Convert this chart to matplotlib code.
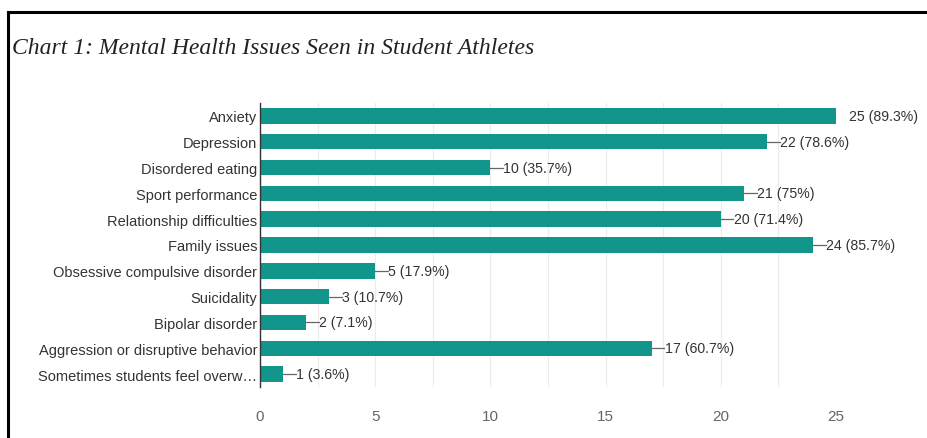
import matplotlib
matplotlib.use("Agg")
import matplotlib.pyplot as plt
from matplotlib.lines import Line2D
from matplotlib.ticker import MultipleLocator

categories = [
    "Anxiety",
    "Depression",
    "Disordered eating",
    "Sport performance",
    "Relationship difficulties",
    "Family issues",
    "Obsessive compulsive disorder",
    "Suicidality",
    "Bipolar disorder",
    "Aggression or disruptive behavior",
    "Sometimes students feel overw\u2026",
]
counts = [25, 22, 10, 21, 20, 24, 5, 3, 2, 17, 1]
percents = ["89.3%", "78.6%", "35.7%", "75%", "71.4%", "85.7%", "17.9%", "10.7%", "7.1%", "60.7%", "3.6%"]
x_ticks = [0, 5, 10, 15, 20, 25]

W, H = 928, 439
fig = plt.figure(figsize=(W / 100, H / 100), dpi=100)
ax = fig.add_axes([260 / W, 1 - 388 / H, (836 - 260) / W, (388 - 104) / H])

bar_color = "#12958a"
y = list(range(len(categories)))
ax.barh(y, counts, height=0.6, color=bar_color, zorder=3)
ax.set_ylim(len(categories) - 0.5, -0.5)
ax.set_xlim(0, 25)

ax.set_yticks(y)
ax.set_yticklabels(categories, fontsize=10.5, color="#333333", family="Liberation Sans")
ax.set_xticks(x_ticks)
ax.set_xticklabels([str(t) for t in x_ticks], fontsize=11, color="#666666", family="Liberation Sans")
ax.xaxis.set_minor_locator(MultipleLocator(2.5))
ax.tick_params(axis="both", which="both", length=0)
ax.tick_params(axis="y", pad=2)
ax.tick_params(axis="x", pad=16)
ax.grid(axis="x", which="both", color="#ececec", linewidth=0.8, zorder=0)
for s in ["top", "right", "bottom"]:
    ax.spines[s].set_visible(False)
ax.spines["left"].set_color("#333333")
ax.spines["left"].set_linewidth(1.0)
ax.spines["left"].set_zorder(4)

for yi, c, p in zip(y, counts, percents):
    ln = Line2D([c, c + 0.55], [yi, yi], color="#666666", linewidth=0.9, zorder=2)
    ax.add_line(ln)
    ax.annotate(f"{c} ({p})", xy=(c, yi), xytext=(13, 0), textcoords="offset pixels",
                va="center", ha="left", fontsize=10.2, color="#333333",
                family="Liberation Sans", annotation_clip=False)

fig.text(12 / W, 1 - 48 / H, "Chart 1: Mental Health Issues Seen in Student Athletes",
         fontsize=17, style="italic", family="Liberation Serif", color="#222222",
         va="center", ha="left")

# frame lines
fig.add_artist(Line2D([8 / W, 1.0], [1 - 13 / H, 1 - 13 / H], transform=fig.transFigure,
                      color="black", linewidth=2.2))
fig.add_artist(Line2D([8 / W, 8 / W], [1 - 13 / H, 0.0], transform=fig.transFigure,
                      color="black", linewidth=2.2))

fig.savefig("out.png", dpi=100, facecolor="white")
